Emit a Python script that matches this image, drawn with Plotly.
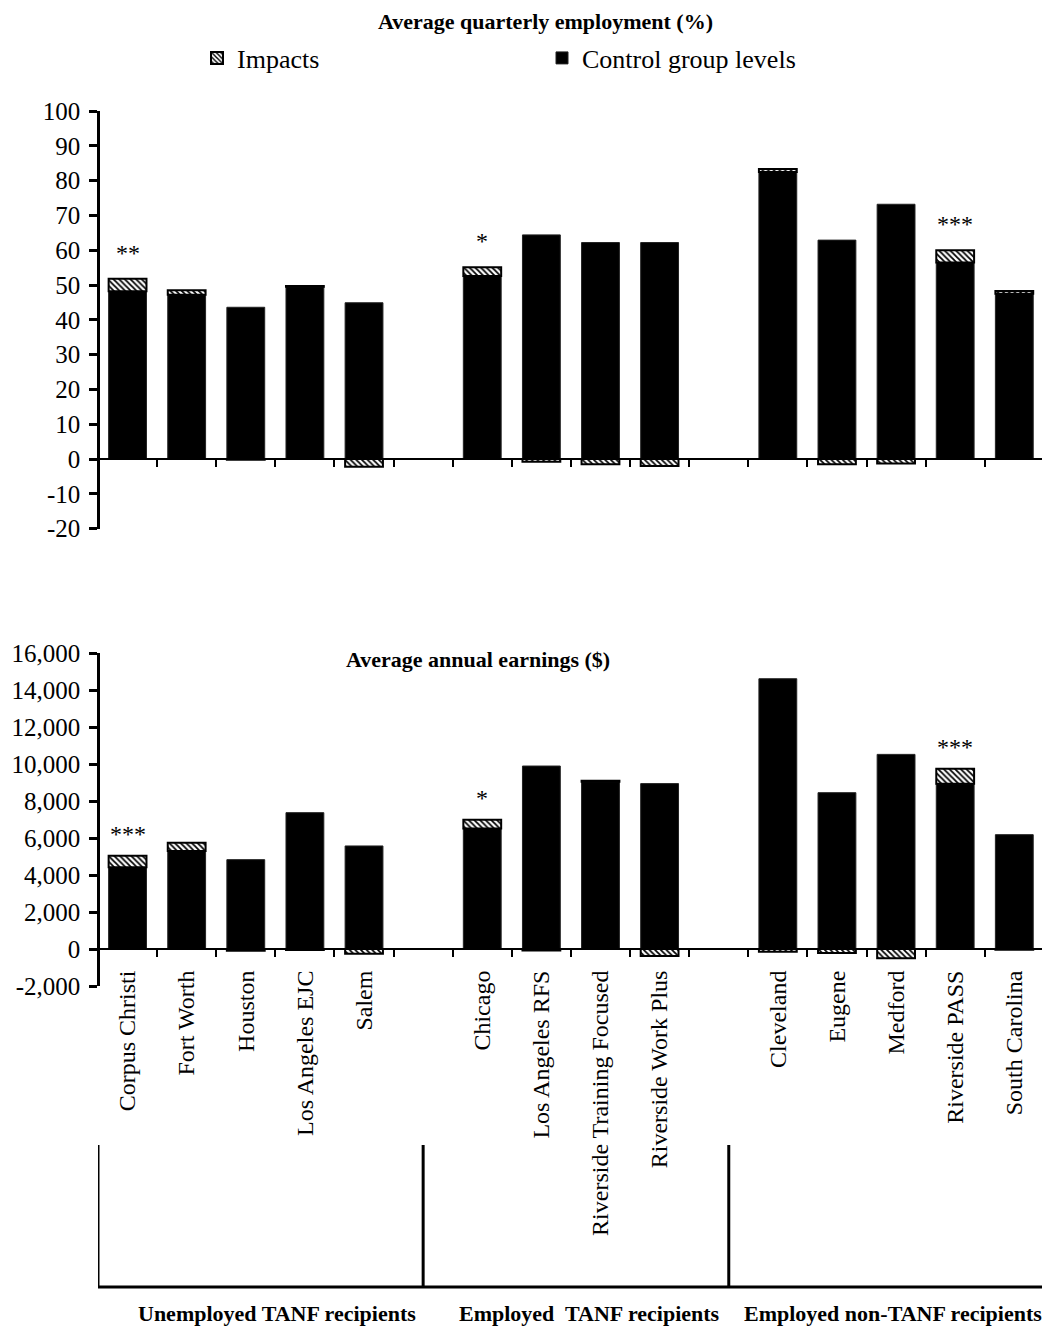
import plotly.graph_objects as go

# ---------------- data ----------------
groups = ["Unemployed TANF recipients", "Employed  TANF recipients", "Employed non-TANF recipients"]
group_sites = [
    ["Corpus Christi", "Fort Worth", "Houston", "Los Angeles EJC", "Salem"],
    ["Chicago", "Los Angeles RFS", "Riverside Training Focused", "Riverside Work Plus"],
    ["Cleveland", "Eugene", "Medford", "Riverside PASS", "South Carolina"],
]
sites = [s for g in group_sites for s in g]

# Average quarterly employment (%)
emp_control = [48.2, 47.2, 43.6, 49.5, 44.9, 52.6, 64.4, 62.2, 62.2, 82.5, 62.9, 73.2, 56.5, 47.5]
emp_impact = [3.6, 1.3, -0.2, 0.2, -2.2, 2.5, -0.8, -1.5, -2.0, 0.8, -1.5, -1.3, 3.5, 0.8]
emp_sig = ["**", "", "", "", "", "*", "", "", "", "", "", "", "***", ""]

# Average annual earnings ($)
earn_control = [4420, 5300, 4830, 7370, 5570, 6520, 9890, 9040, 8940, 14610, 8450, 10520, 8930, 6180]
earn_impact = [620, 450, -100, -50, -250, 470, -80, 60, -380, -150, -220, -500, 820, -40]
earn_sig = ["***", "", "", "", "", "*", "", "", "", "", "", "", "***", ""]

emp_ticks = list(range(-20, 101, 10))
earn_ticks = list(range(-2000, 16001, 2000))

# category axis with empty slots between groups
cat_array = []
for i, g in enumerate(group_sites):
    cat_array += g
    if i < len(group_sites) - 1:
        cat_array.append(" " * (i + 1))

FONT = "Liberation Serif"
OFF = 8                      # page body margin of the browser
H, W = 1330 - OFF, 1050 - OFF
ML, MR = 98 - OFF, 2

def py(px):  # page pixel row -> paper y
    return 1 - (px - OFF) / H

def pxx(px):  # page pixel column -> paper x
    return (px - OFF - ML) / (W - ML - MR)

top_dom = [py(528.6), py(111)]
bot_dom = [py(986), py(653)]
emp_rng = [-20, 100]
earn_rng = [-2000, 16000]

def zero_pos(dom, rng):
    return dom[0] + (0 - rng[0]) / (rng[1] - rng[0]) * (dom[1] - dom[0])

fig = go.Figure()

ctrl_marker = dict(color="black", line=dict(color="#222222", width=1))
imp_marker = dict(color="white",
                  pattern=dict(shape="\\", fgcolor="black", bgcolor="white", size=4, solidity=0.45),
                  line=dict(color="black", width=2))

fig.add_trace(go.Bar(x=sites, y=emp_control, name="Control group levels", marker=ctrl_marker,
                     xaxis="x", yaxis="y", legendrank=2))
fig.add_trace(go.Bar(x=sites, y=emp_impact, name="Impacts", marker=imp_marker,
                     xaxis="x", yaxis="y", legendrank=1))
fig.add_trace(go.Bar(x=sites, y=earn_control, name="Control group levels", marker=ctrl_marker,
                     xaxis="x2", yaxis="y2", showlegend=False))
fig.add_trace(go.Bar(x=sites, y=earn_impact, name="Impacts", marker=imp_marker,
                     xaxis="x2", yaxis="y2", showlegend=False))

xcommon = dict(type="category", categoryorder="array", categoryarray=cat_array,
               range=[-0.5, 15.57], domain=[0, 1], anchor="free",
               showline=True, linecolor="black", linewidth=2,
               ticks="outside", tickson="boundaries", ticklen=7, tickwidth=2, tickcolor="black",
               showgrid=False, zeroline=False, automargin=False, fixedrange=True)

ycommon = dict(showline=True, linecolor="black", linewidth=2.5, ticks="outside", ticklen=8,
               tickwidth=2.5, tickcolor="black", showgrid=False, zeroline=False,
               anchor="free", position=0, automargin=False, ticklabelstandoff=4,
               tickfont=dict(family=FONT, size=25, color="black"))

fig.update_layout(
    template="none",
    width=W, height=H,
    margin=dict(l=ML, r=MR, t=0, b=0),
    paper_bgcolor="white", plot_bgcolor="rgba(0,0,0,0)",
    barmode="relative", bargap=0.36,
    font=dict(family=FONT, color="black"),
    xaxis=dict(xcommon, position=zero_pos(top_dom, emp_rng), showticklabels=False),
    xaxis2=dict(xcommon, position=zero_pos(bot_dom, earn_rng), showticklabels=True,
                tickangle=-90, ticklabelstandoff=11,
                tickfont=dict(family=FONT, size=24, color="black")),
    yaxis=dict(ycommon, domain=top_dom, range=emp_rng,
               tickvals=emp_ticks, ticktext=[str(v) for v in emp_ticks]),
    yaxis2=dict(ycommon, domain=bot_dom, range=earn_rng,
                tickvals=earn_ticks, ticktext=[f"{v:,}" for v in earn_ticks]),
    legend=dict(orientation="h", x=pxx(197), y=py(58), xanchor="left", yanchor="middle",
                font=dict(family=FONT, size=26, color="black"),
                entrywidth=300, entrywidthmode="pixels", bgcolor="rgba(0,0,0,0)",
                itemclick=False, itemdoubleclick=False),
    showlegend=True,
)

BLACK = "#000000"
ann = []
ann.append(dict(text="<b>Average quarterly employment (%)</b>", xref="paper", yref="paper",
                x=pxx(545), y=py(22), xanchor="center", yanchor="middle", showarrow=False,
                font=dict(family=FONT, size=22, color=BLACK)))
ann.append(dict(text="<b>Average annual earnings ($)</b>", xref="paper", yref="paper",
                x=pxx(478), y=py(660), xanchor="center", yanchor="middle", showarrow=False,
                font=dict(family=FONT, size=22, color=BLACK)))

for s, c, i, sig in zip(sites, emp_control, emp_impact, emp_sig):
    if sig:
        ann.append(dict(text=sig, x=s, y=c + max(i, 0), xref="x", yref="y", yanchor="bottom",
                        yshift=11, showarrow=False, font=dict(family=FONT, size=24, color=BLACK)))
for s, c, i, sig in zip(sites, earn_control, earn_impact, earn_sig):
    if sig:
        ann.append(dict(text=sig, x=s, y=c + max(i, 0), xref="x2", yref="y2", yanchor="bottom",
                        yshift=7, showarrow=False, font=dict(family=FONT, size=24, color=BLACK)))

# group bracket below the category labels
group_edges = [-0.5, 5, 10.17, 15.57]
group_label_px = [277, 589, 893]
br_top, br_bot = py(1145), py(1287)
shapes = []
for xe in group_edges:
    shapes.append(dict(type="line", xref="x2", yref="paper", x0=xe, x1=xe, y0=br_bot, y1=br_top,
                       line=dict(color="black", width=3)))
shapes.append(dict(type="line", xref="x2", yref="paper", x0=group_edges[0], x1=group_edges[-1],
                   y0=br_bot, y1=br_bot, line=dict(color="black", width=3)))

for g, gx in zip(groups, group_label_px):
    ann.append(dict(text=f"<b>{g}</b>", x=pxx(gx), xref="paper", y=py(1313), yref="paper",
                    xanchor="center", yanchor="middle", showarrow=False,
                    font=dict(family=FONT, size=22, color=BLACK)))

fig.update_layout(annotations=ann, shapes=shapes)

fig.write_html("out.html")
